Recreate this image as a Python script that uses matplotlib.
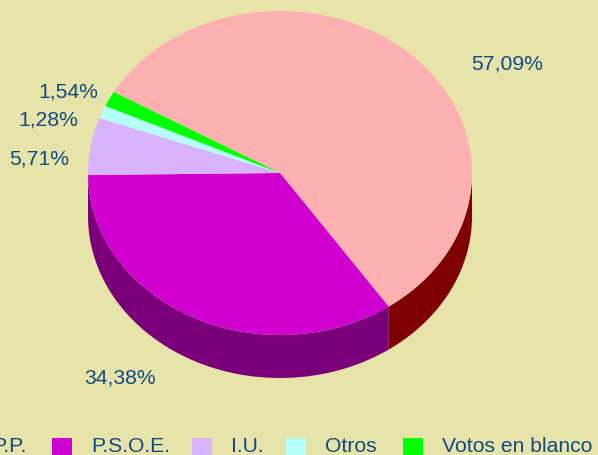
import matplotlib.pyplot as plt
import numpy as np
from matplotlib.patches import Polygon, Rectangle
from matplotlib.transforms import Affine2D

plt.rcParams['font.family'] = ['Liberation Sans', 'DejaVu Sans']

# Vote shares (%)
parties = ['P.P.', 'P.S.O.E.', 'I.U.', 'Otros', 'Votos en blanco']
shares = [57.09, 34.38, 5.71, 1.28, 1.54]
labels = ['57,09%', '34,38%', '5,71%', '1,28%', '1,54%']

top_colors = ['#FFB0B0', '#D000D0', '#D8B4FF', '#B4FFFF', '#00FF00']
side_colors = ['#800000', '#7A007A', '#9070B0', '#70B0B0', '#00A000']
bg = '#E6E4A8'
txt = '#124A85'

# layout in pixels (y up)
W, H = 598, 456
cx, cy = 280, H - 174
rx, ry = 192, 162
depth = 43

fig = plt.figure(figsize=(W / 100, H / 100), dpi=100, facecolor=bg)
ax = fig.add_axes([0, 0, 1, 1])
ax.set_facecolor(bg)

wedges, _ = ax.pie(shares, colors=top_colors, startangle=150.0, counterclock=False,
                   radius=rx, center=(cx, cy), wedgeprops=dict(linewidth=0))
squash = Affine2D().translate(-cx, -cy).scale(1, ry / rx).translate(cx, cy)

# side walls for the front half of the pie
for w, sc in zip(wedges, side_colors):
    t1, t2 = w.theta1 % 360, w.theta2 % 360
    if t2 <= t1:
        t2 += 360
    for lo, hi in [(180, 360), (540, 720)]:
        a, b = max(t1, lo), min(t2, hi)
        if b <= a:
            continue
        t = np.radians(np.linspace(a, b, 100))
        xs = cx + rx * np.cos(t)
        ys = cy + ry * np.sin(t)
        pts = np.concatenate([np.column_stack([xs, ys]),
                              np.column_stack([xs[::-1], ys[::-1] - depth])])
        ax.add_patch(Polygon(pts, closed=True, facecolor=sc, edgecolor='none', zorder=0))

for w in wedges:
    w.set_transform(squash + ax.transData)
    w.set_zorder(2)

ax.set_aspect('auto')
ax.set_xlim(0, W)
ax.set_ylim(0, H)
ax.set_axis_off()

# percentage labels
label_pos = [(507, 64), (120, 378), (39, 159), (48, 120), (68, 92)]
for s, (lx, ly) in zip(labels, label_pos):
    ax.text(lx, H - ly, s, color=txt, fontsize=15.2, ha='center', va='center')

# legend row along the bottom
leg_x = [-47, 52, 192, 286, 403]
for name, col, x0 in zip(parties, top_colors, leg_x):
    ax.add_patch(Rectangle((x0, H - 459), 20, 20, facecolor=col, edgecolor='none'))
    ax.text(x0 + 39, H - 447, name, color=txt, fontsize=15.2, ha='left', va='center')

fig.savefig('out.png', dpi=100, facecolor=bg)
